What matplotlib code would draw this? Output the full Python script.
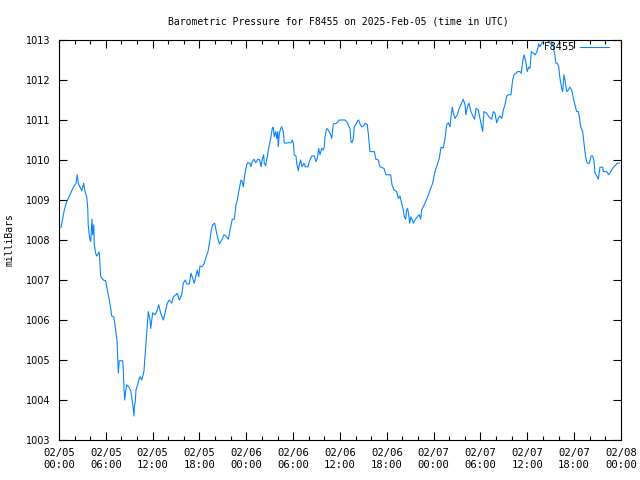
import matplotlib
matplotlib.use("Agg")
import matplotlib.pyplot as plt
import matplotlib.dates as mdates
import pandas as pd

# hours since 2025-02-05 00:00 UTC
hours = [
    0.00, 0.26, 0.42, 0.68, 0.99, 1.41, 1.83, 2.18, 2.34, 2.47, 2.91, 3.16, 3.33, 3.55,
    3.68, 3.75, 3.93, 4.06, 4.23, 4.32, 4.45, 4.52, 4.70, 4.83, 5.16, 5.25, 5.34, 5.68,
    5.98, 6.19, 6.41, 6.62, 6.75, 7.01, 7.17, 7.30, 7.43, 7.52, 7.60, 7.72, 8.16, 8.24,
    8.33, 8.42, 8.54, 8.67, 8.97, 9.19, 9.31, 9.48, 9.61, 9.65, 9.77, 9.86, 10.08, 10.25,
    10.38, 10.59, 10.72, 10.89, 11.02, 11.24, 11.44, 11.66, 11.75, 12.00, 12.30, 12.52,
    12.77, 13.03, 13.36, 13.58, 13.87, 14.13, 14.44, 14.64, 14.99, 15.15, 15.41, 15.72,
    15.92, 16.18, 16.36, 16.69, 16.91, 17.13, 17.33, 17.51, 17.72, 17.90, 18.06, 18.32,
    18.58, 18.83, 19.09, 19.34, 19.51, 19.69, 19.95, 20.20, 20.54, 20.84, 21.14, 21.39,
    21.69, 21.91, 22.20, 22.46, 22.68, 22.84, 23.06, 23.32, 23.48, 23.61, 23.83, 24.05,
    24.17, 24.47, 24.60, 24.76, 24.98, 25.20, 25.46, 25.71, 25.88, 26.04, 26.22, 26.30,
    26.48, 26.61, 26.74, 26.81, 26.99, 27.16, 27.32, 27.45, 27.58, 27.76, 27.89, 28.02,
    28.09, 28.22, 28.40, 28.53, 28.73, 28.86, 29.04, 29.37, 29.72, 29.89, 30.02, 30.14,
    30.36, 30.45, 30.66, 30.78, 30.96, 31.13, 31.39, 31.55, 31.90, 32.07, 32.37, 32.71,
    32.92, 33.09, 33.27, 33.44, 33.65, 33.86, 33.99, 34.08, 34.29, 34.50, 34.72, 34.94,
    35.14, 35.58, 35.91, 36.64, 36.86, 37.06, 37.28, 37.41, 37.54, 37.70, 37.83, 38.05,
    38.27, 38.39, 38.56, 38.78, 38.98, 39.24, 39.50, 39.62, 39.84, 40.39, 40.61, 40.90,
    41.12, 41.63, 41.89, 42.49, 42.66, 42.92, 43.26, 43.47, 43.68, 43.90, 44.11, 44.24,
    44.41, 44.54, 44.67, 44.80, 44.93, 45.09, 45.26, 45.39, 45.61, 45.90, 46.16, 46.34,
    46.46, 46.67, 46.98, 47.23, 47.53, 47.87, 48.17, 48.46, 48.72, 48.94, 49.23, 49.45,
    49.67, 49.87, 50.09, 50.22, 50.39, 50.51, 50.73, 51.03, 51.28, 51.59, 51.79, 52.01,
    52.14, 52.31, 52.52, 52.78, 53.07, 53.25, 53.42, 53.72, 53.93, 54.15, 54.28, 54.44,
    54.79, 55.12, 55.43, 55.64, 55.86, 56.07, 56.28, 56.50, 56.75, 56.92, 57.14, 57.35,
    57.56, 57.90, 58.12, 58.29, 58.55, 58.76, 59.06, 59.23, 59.40, 59.57, 59.70, 59.83,
    59.99, 60.17, 60.34, 60.51, 60.76, 61.02, 61.27, 61.45, 61.62, 61.84, 62.04, 62.26,
    62.56, 62.81, 62.99, 63.25, 63.41, 63.54, 63.67, 63.84, 64.02, 64.18, 64.40, 64.53,
    64.69, 64.86, 65.04, 65.25, 65.46, 65.68, 65.89, 66.10, 66.32, 66.53, 66.66, 66.83,
    67.09, 67.26, 67.38, 67.51, 67.68, 67.94, 68.16, 68.37, 68.54, 68.67, 68.89, 69.09,
    69.31, 69.66, 69.73, 70.17, 70.42, 70.68, 71.02, 71.27, 71.53, 71.78,
]

pressure = [
    1008.32, 1008.32, 1008.48, 1008.75, 1008.96, 1009.13, 1009.32, 1009.42, 1009.63, 1009.42,
    1009.23, 1009.42, 1009.21, 1009.08, 1008.80, 1008.35, 1008.04, 1007.96, 1008.52, 1008.13,
    1008.38, 1007.88, 1007.67, 1007.60, 1007.70, 1007.38, 1007.08, 1007.00, 1006.98, 1006.75,
    1006.54, 1006.29, 1006.10, 1006.08, 1005.88, 1005.67, 1005.50, 1005.04, 1004.68, 1004.98,
    1004.98, 1004.75, 1004.25, 1004.00, 1004.21, 1004.38, 1004.32, 1004.23, 1004.08, 1003.83,
    1003.60, 1003.83, 1003.96, 1004.25, 1004.38, 1004.52, 1004.58, 1004.50, 1004.58, 1004.73,
    1005.10, 1005.67, 1006.21, 1006.00, 1005.79, 1006.18, 1006.13, 1006.21, 1006.38, 1006.17,
    1006.00, 1006.17, 1006.42, 1006.50, 1006.42, 1006.58, 1006.63, 1006.67, 1006.50, 1006.63,
    1006.92, 1007.00, 1006.90, 1006.90, 1007.17, 1007.04, 1006.92, 1007.08, 1007.25, 1007.08,
    1007.35, 1007.33, 1007.40, 1007.57, 1007.71, 1008.00, 1008.25, 1008.38, 1008.42, 1008.17,
    1007.90, 1008.00, 1008.13, 1008.10, 1008.02, 1008.25, 1008.52, 1008.52, 1008.88, 1009.00,
    1009.25, 1009.50, 1009.46, 1009.33, 1009.67, 1009.88, 1009.93, 1009.92, 1009.83, 1009.96,
    1010.02, 1009.93, 1010.02, 1010.00, 1009.83, 1010.02, 1010.13, 1009.92, 1009.85, 1010.02,
    1010.13, 1010.25, 1010.42, 1010.58, 1010.79, 1010.82, 1010.58, 1010.71, 1010.54, 1010.71,
    1010.33, 1010.65, 1010.79, 1010.83, 1010.71, 1010.43, 1010.42, 1010.43, 1010.43, 1010.50,
    1010.42, 1010.13, 1010.10, 1009.92, 1009.73, 1009.88, 1010.00, 1009.83, 1009.92, 1009.83,
    1009.83, 1009.96, 1010.10, 1010.10, 1009.96, 1010.04, 1010.29, 1010.13, 1010.29, 1010.25,
    1010.33, 1010.58, 1010.79, 1010.75, 1010.67, 1010.54, 1010.90, 1010.92, 1011.00, 1011.00,
    1010.96, 1010.88, 1010.79, 1010.46, 1010.43, 1010.54, 1010.83, 1010.90, 1010.98, 1011.00,
    1010.90, 1010.83, 1010.85, 1010.92, 1010.88, 1010.67, 1010.21, 1010.21, 1010.02, 1010.00,
    1009.83, 1009.79, 1009.63, 1009.63, 1009.38, 1009.25, 1009.21, 1009.04, 1009.10, 1008.92,
    1008.75, 1008.58, 1008.52, 1008.75, 1008.79, 1008.63, 1008.42, 1008.58, 1008.50, 1008.42,
    1008.50, 1008.58, 1008.63, 1008.52, 1008.75, 1008.83, 1008.96, 1009.08, 1009.25, 1009.42,
    1009.71, 1009.88, 1010.04, 1010.32, 1010.30, 1010.54, 1010.88, 1010.93, 1010.83, 1011.08,
    1011.32, 1011.18, 1011.04, 1011.13, 1011.29, 1011.43, 1011.52, 1011.38, 1011.13, 1011.32,
    1011.42, 1011.21, 1011.08, 1011.02, 1011.29, 1011.25, 1011.04, 1010.83, 1010.71, 1011.21,
    1011.17, 1011.07, 1011.02, 1011.21, 1011.17, 1010.93, 1011.04, 1011.10, 1011.04, 1011.25,
    1011.38, 1011.60, 1011.63, 1011.63, 1012.00, 1012.13, 1012.17, 1012.21, 1012.21, 1012.17,
    1012.46, 1012.63, 1012.54, 1012.42, 1012.21, 1012.32, 1012.29, 1012.71, 1012.67, 1012.63,
    1012.73, 1012.90, 1012.83, 1012.92, 1012.96, 1013.02, 1013.02, 1012.92, 1013.02, 1012.92,
    1012.75, 1012.60, 1012.42, 1012.42, 1012.33, 1012.04, 1011.79, 1011.71, 1012.13, 1011.96,
    1011.71, 1011.75, 1011.82, 1011.75, 1011.54, 1011.38, 1011.21, 1011.21, 1011.08, 1010.83,
    1010.71, 1010.42, 1010.21, 1010.04, 1009.92, 1009.92, 1010.10, 1010.10, 1009.98, 1009.67,
    1009.60, 1009.52, 1009.82, 1009.82, 1009.71, 1009.71, 1009.63, 1009.71, 1009.82, 1009.86,
    1009.92, 1009.92,
]

station = "F8455"
start = pd.Timestamp("2025-02-05 00:00")
end = pd.Timestamp("2025-02-08 00:00")
y_min, y_max = 1003, 1013

times = start + pd.to_timedelta(hours, unit="h")

fig = plt.figure(figsize=(6.4, 4.8), dpi=100)
ax = fig.add_axes([59 / 640, 40 / 480, 562 / 640, 400 / 480])

ax.plot(times, pressure, color="#0a84ff", linewidth=0.8, label=station)

ax.set_xlim(start, end)
ax.set_ylim(y_min, y_max)
ax.set_yticks(range(y_min, y_max + 1))

ax.xaxis.set_major_locator(mdates.HourLocator(byhour=[0, 6, 12, 18]))
ax.xaxis.set_minor_locator(mdates.HourLocator(interval=2))
ax.xaxis.set_major_formatter(mdates.DateFormatter("%m/%d\n%H:%M"))

ax.tick_params(axis="both", which="both", direction="in", top=True, right=True,
               width=0.8, color="black")
ax.tick_params(axis="both", which="major", length=6)
ax.tick_params(axis="x", which="minor", length=3)
ax.tick_params(axis="x", which="major", pad=6, labelsize=7.6,
               labelfontfamily="DejaVu Sans Mono")
ax.tick_params(axis="y", which="major", pad=6, labelsize=7)

for spine in ax.spines.values():
    spine.set_linewidth(0.8)

ax.set_ylabel("milliBars", fontsize=7, family="DejaVu Sans Mono", labelpad=8)
fig.text(338 / 640, 1 - 21 / 480,
         "Barometric Pressure for %s on 2025-Feb-05 (time in UTC)" % station,
         ha="center", va="center", fontsize=7, family="DejaVu Sans Mono")

ax.legend(loc="upper right", bbox_to_anchor=(1 - 10 / 562, 1.0), frameon=False,
          markerfirst=False, handlelength=3.0, fontsize=7, borderaxespad=0.0,
          borderpad=0.2, handletextpad=0.6)

fig.savefig("out.png", dpi=100)
